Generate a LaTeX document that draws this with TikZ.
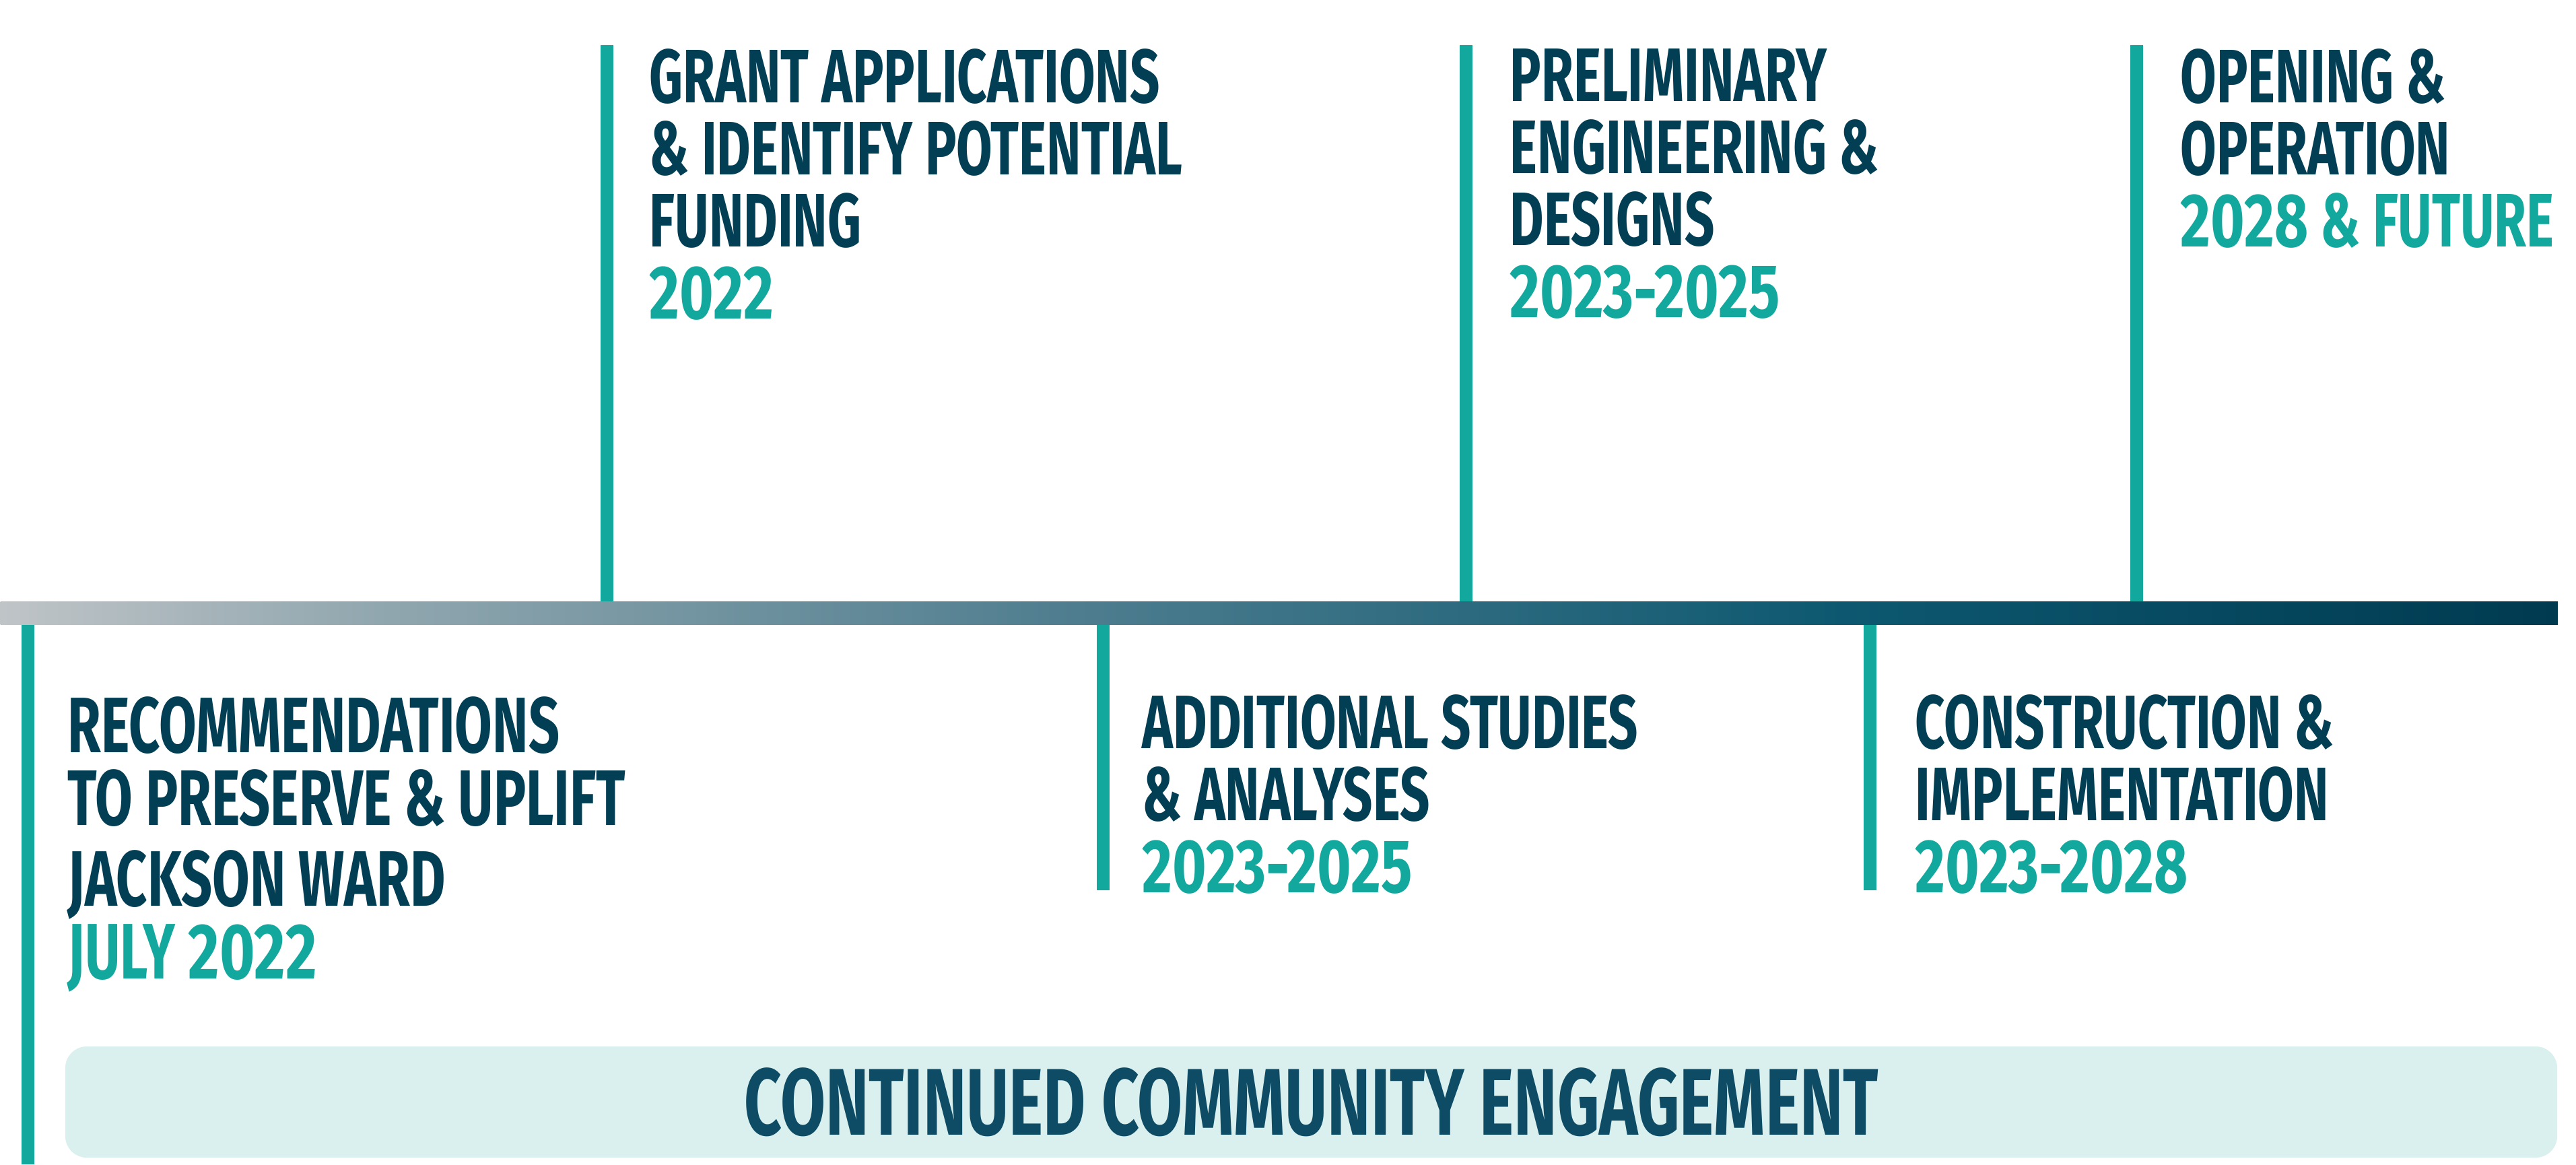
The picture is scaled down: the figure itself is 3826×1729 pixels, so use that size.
\documentclass[tikz,border=0pt]{standalone}
\usepackage{fontspec}
\usetikzlibrary{positioning}
\newfontfamily\tlfont[FakeStretch=0.69]{Fira Sans}
\newfontfamily\tlnum[FakeStretch=0.77]{Fira Sans}
\definecolor{navy}{HTML}{033F54}
\definecolor{navyb}{HTML}{0E4B64}
\definecolor{tlteal}{HTML}{12A89D}
\definecolor{mist}{HTML}{DAF0EE}
\definecolor{barA}{HTML}{BFC4C7}
\definecolor{barB}{HTML}{93A8B0}
\definecolor{barC}{HTML}{4E7D8F}
\definecolor{barD}{HTML}{0D5870}
\definecolor{barE}{HTML}{003A50}
\pgfdeclarehorizontalshading{barshade}{100bp}{color(0bp)=(barA); color(25bp)=(barA);
  color(32bp)=(barB); color(46bp)=(barC); color(61bp)=(barD); color(75bp)=(barE);
  color(100bp)=(barE)}
\newcommand{\yr}[1]{\textcolor{tlteal}{#1}}

\begin{document}
\begin{tikzpicture}[
  x=0.01cm, y=-0.01cm,
  stem/.style={draw=tlteal, line width=1.9mm},
  phase/.style={
    anchor=north west, inner sep=0pt, align=left, text=navy,
    font=\tlfont\bfseries\fontsize{32}{30.4}\selectfont
  },
  phasebig/.style={phase, font=\tlfont\bfseries\fontsize{33.2}{30.7}\selectfont},
  bar/.style={
    anchor=west, inner sep=0pt, shade, shading=barshade,
    minimum width=37.96cm, minimum height=0.34cm
  },
  engage/.style={
    fill=mist, rounded corners=3.2mm, inner sep=0pt, text=navyb,
    minimum width=36.99cm, minimum height=1.65cm,
    font=\tlfont\bfseries\fontsize{40}{40}\selectfont
  },
]

\useasboundingbox (0,0) rectangle (3826,1729);

% =============================================
% Stems (above and below the bar)
% =============================================
\foreach \x in {901.5, 2177.5, 3173.5}
  \draw[stem] (\x,67) -- (\x,910);
\foreach \x/\y in {41.5/1729, 1638/1322, 2777.5/1322}
  \draw[stem] (\x,\y) -- (\x,910);

% =============================================
% Timeline bar
% =============================================
\node[bar] (bar) at (0,910) {};

% =============================================
% Phases above the bar
% =============================================
\node[phase] (grant) at (964,72)
  {GRANT APPLICATIONS\\\& IDENTIFY POTENTIAL\\FUNDING\\
   \yr{\tlnum 2022}};

\node[phase] (prelim) at (2242,72)
  {PRELIMINARY\\ENGINEERING \&\\DESIGNS\\
   \yr{\tlnum 2023-2025}};

\node[phase] (opening) at (3238,72)
  {OPENING \&\\OPERATION\\
   \yr{{\tlnum 2028} \& FUTURE}};

% =============================================
% Phases below the bar
% =============================================
\node[phasebig] (recs) at (100,1034)
  {RECOMMENDATIONS\\TO PRESERVE \& UPLIFT\\[3.4pt]JACKSON WARD\\
   \yr{JULY {\tlnum 2022}}};

\node[phase] (studies) at (1696,1031)
  {ADDITIONAL STUDIES\\\& ANALYSES\\
   \yr{\tlnum 2023-2025}};

\node[phase] (build) at (2844,1031)
  {CONSTRUCTION \&\\IMPLEMENTATION\\
   \yr{\tlnum 2023-2028}};

% =============================================
% Engagement band
% =============================================
\node[engage] (engage) at (1947.5,1636.5) {CONTINUED COMMUNITY ENGAGEMENT};

\end{tikzpicture}
\end{document}
